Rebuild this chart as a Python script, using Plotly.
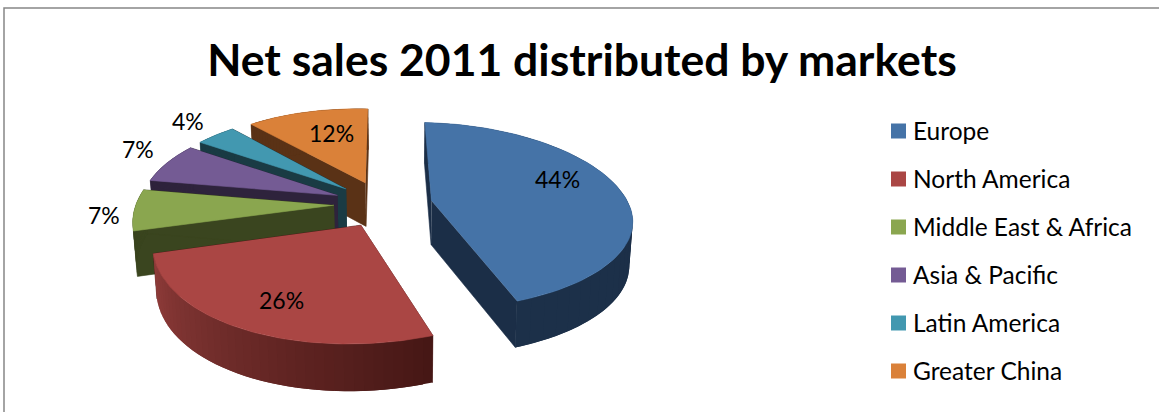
import numpy as np
import plotly.graph_objects as go

# Chart data
markets = ["Europe", "North America", "Middle East & Africa", "Asia & Pacific", "Latin America", "Greater China"]
shares = [44, 26, 7, 7, 4, 12]

# Slice colours: top face, shaded wall at the start and the end of the rim
top_colors = ["#4573a7", "#aa4644", "#8aa64f", "#745b94", "#4298b0", "#da8139"]
rim_start = ["#1b2e47", "#461715", "#3a451f", "#2e233c", "#1a3b44", "#5a3216"]
rim_end = ["#1c3049", "#8f3c3a", "#3a451f", "#2e233c", "#1a3b44", "#5a3216"]
cut_colors = ["#1b2e47", "#461715", "#3a451f", "#2e233c", "#1a3b44", "#5a3216"]

# Where each percentage sits, in chart pixels
label_x = [557, 281, 104, 138, 188, 331]
label_y = [178.5, 299.5, 214.5, 148.5, 120.5, 132.5]

# Legend rows
legend_marker_x = 898.5
legend_text_x = 910.5
legend_rows = [131, 179, 227, 275, 323, 371]

# Perspective camera for the tilted pie
CX, CY = 383.0, 204.0
RX, RY = 199.0, 92.0
PERSP = 0.16
EXPLODE = 0.25
DEPTH = 44.0
NEAR_PULL = 10.5
ROLL = 4.0
LEFT_SQUEEZE = 0.985


def project(u, v, lowered=False):
    """Map disc coordinates to the page, optionally onto the underside."""
    u = np.asarray(u, dtype=float)
    v = np.asarray(v, dtype=float)
    d = 1 + PERSP * v
    across = np.where(u < 0, u * LEFT_SQUEEZE, u)
    x = CX + RX * across / d - NEAR_PULL * np.minimum(v, 0) ** 2
    y = CY - RY * v / d + ROLL * u
    if lowered:
        x = 400 + (x - 400) * 0.985
        y = y + DEPTH * (1 - 0.06 * v)
    return x, y


def polygon(fig, xs, ys, color, edge=0.6):
    fig.add_trace(go.Scatter(
        x=list(xs), y=list(ys), mode="lines", fill="toself", fillcolor=color,
        line=dict(color=color, width=edge), hoverinfo="skip", showlegend=False,
    ))


def mix(c1, c2, t):
    a = [int(c1[i:i + 2], 16) for i in (1, 3, 5)]
    b = [int(c2[i:i + 2], 16) for i in (1, 3, 5)]
    return "rgb({},{},{})".format(*[round(p + (q - p) * t) for p, q in zip(a, b)])


fig = go.Figure()

edges = np.radians(np.concatenate([[0], np.cumsum(shares)]) * 3.6)
slices = []
for i in range(len(shares)):
    a0, a1 = edges[i], edges[i + 1]
    mid = (a0 + a1) / 2
    slices.append((i, a0, a1, EXPLODE * np.sin(mid), EXPLODE * np.cos(mid)))

# Back slices first, so nearer ones cover them; Europe stands alone at the end
for i, a0, a1, ou, ov in [slices[k] for k in (5, 4, 3, 2, 1, 0)]:
    theta = np.linspace(a0, a1, 80)
    u = ou + np.sin(theta)
    v = ov + np.cos(theta)

    # Two radial cut faces
    for a in (a0, a1):
        ue, ve = ou + np.sin(a), ov + np.cos(a)
        p = [project(ou, ov), project(ue, ve), project(ue, ve, True), project(ou, ov, True)]
        polygon(fig, [float(q[0]) for q in p], [float(q[1]) for q in p], cut_colors[i])

    # Rim, split in narrow bands that overlap so no seams show between them
    bands = 40
    cuts = np.linspace(a0, a1, bands + 1)
    for b in range(bands):
        t = np.linspace(cuts[b], cuts[min(b + 2, bands)], 6)
        ub, vb = ou + np.sin(t), ov + np.cos(t)
        upper = project(ub, vb)
        lower = project(ub, vb, True)
        polygon(
            fig,
            np.concatenate([upper[0], lower[0][::-1]]),
            np.concatenate([upper[1], lower[1][::-1]]),
            mix(rim_start[i], rim_end[i], b / (bands - 1)),
            edge=0,
        )

    # Top face
    tx, ty = project(np.concatenate([[ou], u]), np.concatenate([[ov], v]))
    polygon(fig, tx, ty, top_colors[i])

# Legend keys
for name, color, row in zip(markets, top_colors, legend_rows):
    fig.add_trace(go.Scatter(
        x=[legend_marker_x], y=[row], mode="markers", name=name,
        marker=dict(symbol="square", size=15, color=color, line=dict(width=0)),
        hoverinfo="name", showlegend=False,
    ))

annotations = []
for share, x, y in zip(shares, label_x, label_y):
    annotations.append(dict(
        x=x, y=y, xref="x", yref="y", text=f"{share}%", showarrow=False,
        font=dict(family="Lato", size=23, color="#000000"),
    ))
for name, row in zip(markets, legend_rows):
    annotations.append(dict(
        x=legend_text_x, y=row - 0.7, xref="x", yref="y", text=name, showarrow=False,
        xanchor="left", font=dict(family="Lato", size=24.5, color="#000000"),
    ))

fig.update_layout(
    width=1159, height=412, autosize=False,
    margin=dict(l=0, r=0, t=0, b=0, pad=0),
    paper_bgcolor="#ffffff", plot_bgcolor="#ffffff",
    showlegend=False,
    title=dict(
        text="<b>Net sales 2011 distributed by markets</b>",
        x=582 / 1159, xanchor="center", xref="paper",
        y=1 - 60 / 412, yanchor="middle", yref="paper",
        font=dict(family="Lato", size=44.5, color="#000000"),
    ),
    xaxis=dict(range=[0, 1159], visible=False, fixedrange=True),
    yaxis=dict(range=[412, 0], visible=False, fixedrange=True),
    annotations=annotations,
    shapes=[dict(
        type="path", path="M 4 412 L 4 8 L 1159 8",
        xref="x", yref="y", line=dict(color="#868686", width=1.5),
    )],
)

fig.write_html("out.html")
